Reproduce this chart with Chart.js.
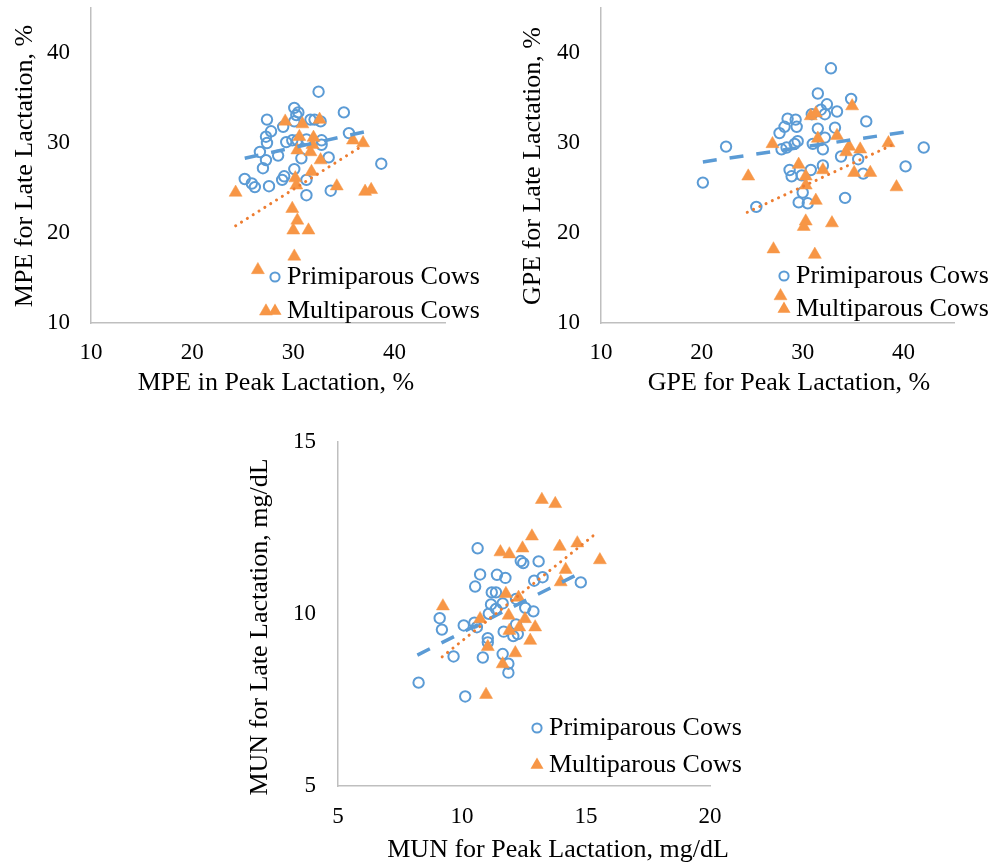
<!DOCTYPE html>
<html>
<head>
<meta charset="utf-8">
<script src="https://cdn.jsdelivr.net/npm/chart.js@4.4.1/dist/chart.umd.min.js"></script>
<style>
  html, body { margin: 0; padding: 0; background: #fff; }
  #wrap { position: relative; width: 999px; height: 865px; overflow: hidden; }
  canvas { position: absolute; }
</style>
</head>
<body>
<div id="wrap">
  <canvas id="mpe" width="500" height="400" style="left:0;top:0"></canvas>
  <canvas id="gpe" width="499" height="400" style="left:500px;top:0"></canvas>
  <canvas id="mun" width="530" height="465" style="left:240px;top:400px"></canvas>
</div>
<script>
// ---- data: [peak, late] per cow ----
const mpePrimi = [
  [32.5,35.7],[35.0,33.4],[30.1,33.9],[30.5,33.4],[30.3,33.1],[27.4,32.6],[31.7,32.6],[32.1,32.6],
  [30.1,32.4],[32.7,32.4],[29.0,31.8],[27.8,31.3],[35.5,31.1],[27.3,30.7],[27.4,30.0],[29.3,30.1],
  [29.9,30.3],[30.4,30.3],[31.3,30.4],[32.8,30.3],[32.8,29.8],[26.7,29.0],[28.5,28.6],[30.8,28.3],
  [33.5,28.4],[27.3,28.1],[38.7,27.7],[27.0,27.2],[30.1,27.1],[29.1,26.3],[28.9,25.9],[25.2,26.0],
  [25.9,25.5],[26.2,25.1],[27.6,25.2],[31.3,25.9],[33.7,24.7],[31.3,24.2]
];
const mpeMulti = [
  [29.2,32.4],[30.9,32.1],[32.6,32.6],[30.6,30.7],[32.0,30.6],[30.4,29.2],[31.7,29.0],[31.9,29.8],
  [32.7,28.1],[35.9,30.3],[36.9,30.0],[31.8,26.8],[30.2,26.1],[30.3,25.3],[34.3,25.2],[37.1,24.6],
  [37.7,24.8],[24.3,24.5],[29.9,22.7],[30.4,21.4],[30.0,20.3],[31.5,20.3],[30.1,17.4],[26.5,15.9],
  [27.3,11.3]
];
const mpeTrendPrimi = [[25.2,28.3],[37.3,31.3]];
const mpeTrendMulti = [[24.3,20.8],[36.7,29.6]];

const gpePrimi = [
  [32.8,38.3],[31.5,35.5],[34.8,34.9],[32.4,34.3],[31.8,33.7],[33.4,33.5],[32.2,33.2],[30.9,33.2],
  [36.3,32.4],[28.5,32.7],[29.3,32.6],[28.2,31.8],[29.4,31.8],[27.7,31.1],[31.5,31.6],[33.2,31.7],
  [29.5,30.2],[29.2,29.9],[32.2,30.6],[31.0,29.9],[32.0,29.3],[27.9,29.3],[28.4,29.5],[22.4,29.6],
  [33.8,28.5],[35.5,28.2],[42.0,29.5],[40.2,27.4],[36.0,26.6],[28.7,27.0],[28.9,26.3],[30.8,27.0],
  [32.0,27.5],[29.9,26.4],[20.1,25.6],[34.2,23.9],[25.4,22.9],[29.6,23.4],[30.5,23.3],[30.0,24.5]
];
const gpeMulti = [
  [34.9,34.1],[30.8,33.0],[31.3,33.3],[27.0,29.9],[31.5,30.5],[33.4,30.8],[34.6,29.6],[34.3,29.0],
  [35.7,29.3],[38.5,30.0],[24.6,26.3],[29.6,27.6],[32.0,27.0],[35.1,26.7],[36.7,26.7],[30.3,26.3],
  [30.3,25.3],[39.3,25.1],[31.3,23.6],[30.3,21.3],[30.1,20.7],[32.9,21.1],[27.1,18.2],[31.2,17.6],
  [27.8,13.0]
];
const gpeTrendPrimi = [[20.1,27.9],[40.6,31.3]];
const gpeTrendMulti = [[24.5,22.3],[39.1,29.9]];

const munPrimi = [
  [8.25,8.0],[10.13,7.6],[9.1,9.87],[9.19,9.54],[9.66,8.76],[10.07,9.66],[10.5,9.74],[10.6,9.61],
  [10.63,11.9],[10.73,11.14],[10.53,10.79],[11.04,9.29],[11.04,9.17],[10.84,8.73],[11.2,10.62],
  [11.37,10.62],[11.41,11.13],[11.75,11.04],[11.17,10.27],[11.37,10.14],[11.08,10.0],[11.64,10.3],
  [11.68,9.48],[11.64,8.83],[11.87,8.55],[11.87,8.29],[12.37,11.53],[12.47,11.47],[13.09,11.52],
  [13.25,11.06],[12.91,10.96],[14.79,10.91],[12.18,10.43],[12.55,10.17],[12.88,10.07],[12.18,9.69],
  [12.25,9.41],[12.07,9.35]
];
const munMulti = [
  [13.22,13.31],[13.76,13.19],[12.82,12.25],[13.94,11.95],[14.65,12.05],[12.44,11.9],[11.55,11.79],
  [11.91,11.73],[15.56,11.56],[14.18,11.28],[13.98,10.92],[11.77,10.58],[12.28,10.47],[9.23,10.22],
  [11.88,9.95],[12.54,9.85],[10.73,9.85],[12.31,9.61],[12.95,9.61],[11.91,9.51],[12.75,9.22],
  [11.04,9.04],[12.15,8.86],[11.64,8.54],[10.97,7.65]
];
const munTrendPrimi = [[8.2,8.8],[14.7,11.16]];
const munTrendMulti = [[9.2,8.75],[15.3,12.27]];

const seriesNames = ['Primiparous Cows', 'Multiparous Cows'];

// ---- styling ----
const FONT = "'Liberation Serif', 'Times New Roman', serif";
const BLUE = '#5b9bd5';
const ORANGE = '#f79646';
const ORANGE_DARK = '#ed7d31';
const AXIS = '#bfbfbf';

const pts = (arr) => arr.map(([x, y]) => ({ x, y }));

// axis titles + in-plot legend, drawn after the chart
const panelText = {
  id: 'panelText',
  afterDraw(chart, args, o) {
    const ctx = chart.ctx;
    ctx.save();
    ctx.fillStyle = '#000';
    ctx.font = `26px ${FONT}`;
    ctx.textBaseline = 'middle';
    ctx.textAlign = 'center';
    ctx.fillText(o.xTitle, o.xAt[0], o.xAt[1]);
    ctx.save();
    ctx.translate(o.yAt[0], o.yAt[1]);
    ctx.rotate(-Math.PI / 2);
    ctx.fillText(o.yTitle, 0, 0);
    ctx.restore();

    const [lx, r1, r2] = o.legend;
    ctx.textAlign = 'left';
    ctx.fillText(seriesNames[0], lx + 12, r1);
    ctx.fillText(seriesNames[1], lx + 12, r2);

    ctx.strokeStyle = BLUE;
    ctx.lineWidth = 2;
    ctx.beginPath();
    ctx.arc(lx, r1, 4.6, 0, Math.PI * 2);
    ctx.stroke();

    const r = 7.5;
    ctx.fillStyle = ORANGE;
    ctx.beginPath();
    ctx.moveTo(lx, r2 - r);
    ctx.lineTo(lx + r * Math.cos(Math.PI / 6), r2 + r / 2);
    ctx.lineTo(lx - r * Math.cos(Math.PI / 6), r2 + r / 2);
    ctx.closePath();
    ctx.fill();
    ctx.restore();
  },
};

function axis(min, max, step, size, pad, horizontal) {
  return {
    type: 'linear',
    min, max,
    grid: { display: false, drawTicks: false },
    border: { display: true, color: AXIS, width: 1.5 },
    ticks: {
      stepSize: step,
      includeBounds: false,
      padding: pad,
      maxRotation: 0,
      color: '#000',
      font: { family: FONT, size: 23 },
    },
    afterFit(s) {
      // fixed axis box; don't let edge labels pad the chart area
      if (horizontal) {
        s.height = size;
        s.paddingLeft = 0;
        s.paddingRight = 0;
      } else {
        s.width = size;
        s.paddingTop = 0;
        s.paddingBottom = 0;
      }
    },
  };
}

function makePanel(id, d, o) {
  return new Chart(document.getElementById(id), {
    type: 'scatter',
    data: {
      datasets: [
        {
          type: 'line', data: pts(d.trendPrimi), order: 1,
          borderColor: BLUE, borderWidth: 3.5, borderDash: [14, 13],
          pointRadius: 0, fill: false,
        },
        {
          type: 'line', data: pts(d.trendMulti), order: 0,
          borderColor: ORANGE_DARK, borderWidth: 3, borderDash: [0.1, 6.8],
          borderCapStyle: 'round', pointRadius: 0, fill: false,
        },
        {
          label: seriesNames[1], data: pts(d.multi), order: 2,
          pointStyle: 'triangle', pointRadius: 7.5, pointBorderWidth: 0.5,
          backgroundColor: ORANGE, borderColor: ORANGE,
        },
        {
          label: seriesNames[0], data: pts(d.primi), order: 3,
          pointStyle: 'circle', pointRadius: 5.2, pointBorderWidth: 2,
          backgroundColor: 'rgba(255,255,255,0)', borderColor: BLUE,
        },
      ],
    },
    options: {
      responsive: false,
      animation: false,
      devicePixelRatio: 1,
      layout: { padding: o.padding },
      plugins: {
        legend: { display: false },
        tooltip: { enabled: false },
        panelText: o.text,
      },
      scales: {
        x: axis(o.x[0], o.x[1], o.x[2], o.xSize, o.xPad, true),
        y: axis(o.y[0], o.y[1], o.y[2], o.ySize, o.yPad, false),
      },
    },
    plugins: [panelText],
  });
}

makePanel('mpe',
  { primi: mpePrimi, multi: mpeMulti, trendPrimi: mpeTrendPrimi, trendMulti: mpeTrendMulti },
  {
    x: [10, 45, 10], y: [10, 45, 10],
    padding: { top: 8, right: 55, left: 0, bottom: 0 },
    xSize: 77, ySize: 91, xPad: 16, yPad: 21,
    text: {
      xTitle: 'MPE in Peak Lactation, %', xAt: [276, 383],
      yTitle: 'MPE for Late Lactation, %', yAt: [25, 166],
      legend: [275, 277, 311],
    },
  });

makePanel('gpe',
  { primi: gpePrimi, multi: gpeMulti, trendPrimi: gpeTrendPrimi, trendMulti: gpeTrendMulti },
  {
    x: [10, 45, 10], y: [10, 45, 10],
    padding: { top: 8, right: 45, left: 0, bottom: 0 },
    xSize: 77, ySize: 101, xPad: 16, yPad: 21,
    text: {
      xTitle: 'GPE for Peak Lactation, %', xAt: [289, 383],
      yTitle: 'GPE for Late Lactation, %', yAt: [33, 166],
      legend: [284, 276, 309],
    },
  });

makePanel('mun',
  { primi: munPrimi, multi: munMulti, trendPrimi: munTrendPrimi, trendMulti: munTrendMulti },
  {
    x: [5, 20, 5], y: [5, 15, 5],
    padding: { top: 41.5, right: 60, left: 0, bottom: 0 },
    xSize: 79, ySize: 98, xPad: 17, yPad: 22,
    text: {
      xTitle: 'MUN for Peak Lactation, mg/dL', xAt: [318, 450],
      yTitle: 'MUN for Late Lactation, mg/dL', yAt: [20, 227],
      legend: [297, 328, 365],
    },
  });
</script>
</body>
</html>
